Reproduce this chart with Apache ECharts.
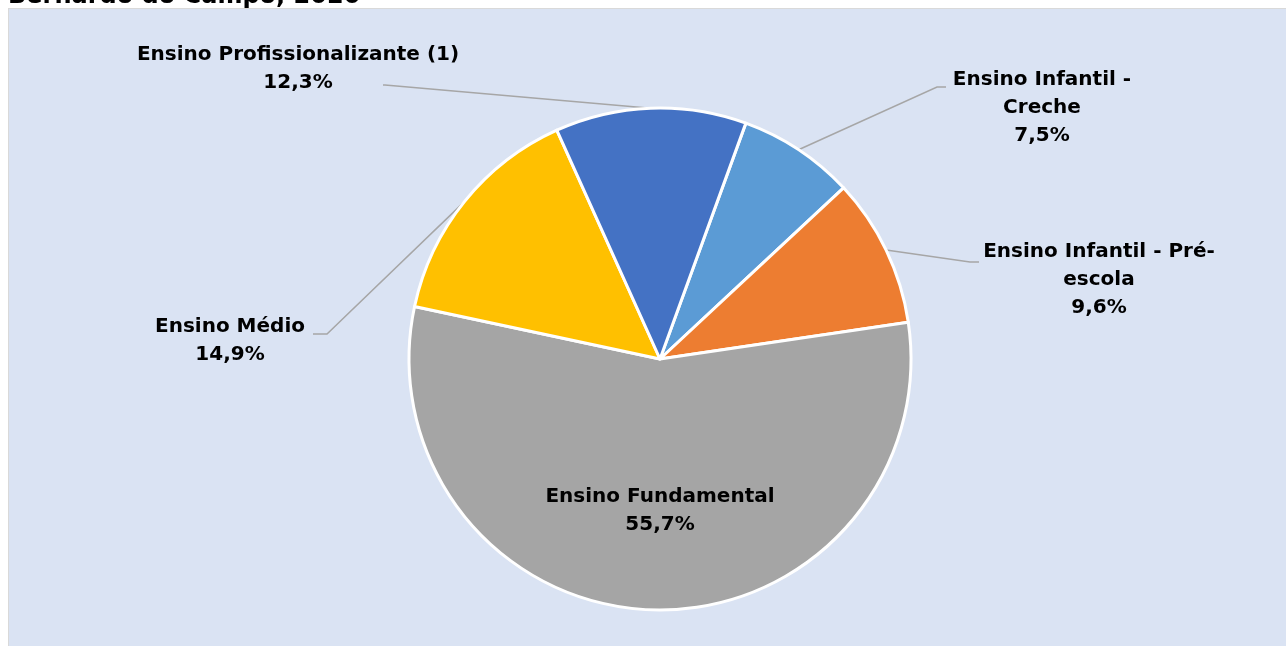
<!DOCTYPE html>
<html>
<head>
<meta charset="utf-8">
<script src="https://cdn.jsdelivr.net/npm/echarts@6/dist/echarts.min.js"></script>
<style>
  html, body { margin: 0; padding: 0; background: #fff; }
  #panel {
    position: absolute; left: 8px; top: 8px; right: 0; bottom: 0;
    background: #dae3f3;
    border-left: 1px solid #d9d9d9;
    border-top: 1px solid #d9d9d9;
  }
  #main { position: absolute; left: 0; top: 0; width: 1286px; height: 646px; }
</style>
</head>
<body>
<div id="panel"></div>
<div id="main"></div>
<script>
// dados (percentual de matrículas)
var categories = [
  "Ensino Infantil -\nCreche",
  "Ensino Infantil - Pré-\nescola",
  "Ensino Fundamental",
  "Ensino Médio",
  "Ensino Profissionalizante (1)"
];
var values = [7.5, 9.6, 55.7, 14.9, 12.3];
var colors = ["#5b9bd5", "#ed7d31", "#a5a5a5", "#ffc000", "#4472c4"];

// posição dos rótulos: centro do bloco de texto + pontos da linha guia
var labelPos = [
  { x: 1042, y: 108, line: [[937, 87], [946, 87]] },
  { x: 1099, y: 280, line: [[970, 262], [979, 262]] },
  { x: 660, y: 511, line: null },
  { x: 230, y: 341, line: [[327, 334], [313, 334]] },
  { x: 298, y: 69, line: [[385, 85], [383, 85]] }
];

var myChart = echarts.init(document.getElementById("main"));

var pieData = categories.map(function (name, i) {
  var item = { name: name, value: values[i], itemStyle: { color: colors[i] } };
  if (!labelPos[i].line) {
    item.label = { position: "inside" };
    item.labelLine = { show: false };
  }
  return item;
});

myChart.setOption({
  animation: false,
  backgroundColor: "transparent",
  title: {
    text: "Bernardo do Campo, 2020",
    left: 8,
    top: -15,
    padding: 0,
    textStyle: {
      fontFamily: "DejaVu Sans",
      fontSize: 24,
      fontWeight: "bold",
      color: "#000"
    }
  },
  series: [
    {
      type: "pie",
      center: [660, 359],
      radius: 251,
      startAngle: 70,
      clockwise: true,
      avoidLabelOverlap: false,
      data: pieData,
      itemStyle: { borderColor: "#fff", borderWidth: 3 },
      emphasis: { disabled: true },
      label: {
        show: true,
        position: "outside",
        fontFamily: "DejaVu Sans",
        fontSize: 20,
        fontWeight: "bold",
        color: "#000",
        lineHeight: 28,
        align: "center",
        formatter: function (p) {
          return p.name + "\n" + p.value.toFixed(1).replace(".", ",") + "%";
        }
      },
      labelLine: {
        show: true,
        lineStyle: { color: "#a6a6a6", width: 1.5 }
      },
      labelLayout: function (params) {
        var pos = labelPos[params.dataIndex];
        var out = { x: pos.x, y: pos.y, align: "center", verticalAlign: "middle" };
        if (pos.line && params.labelLinePoints) {
          out.labelLinePoints = [params.labelLinePoints[0], pos.line[0], pos.line[1]];
        }
        return out;
      }
    }
  ]
});
</script>
</body>
</html>
